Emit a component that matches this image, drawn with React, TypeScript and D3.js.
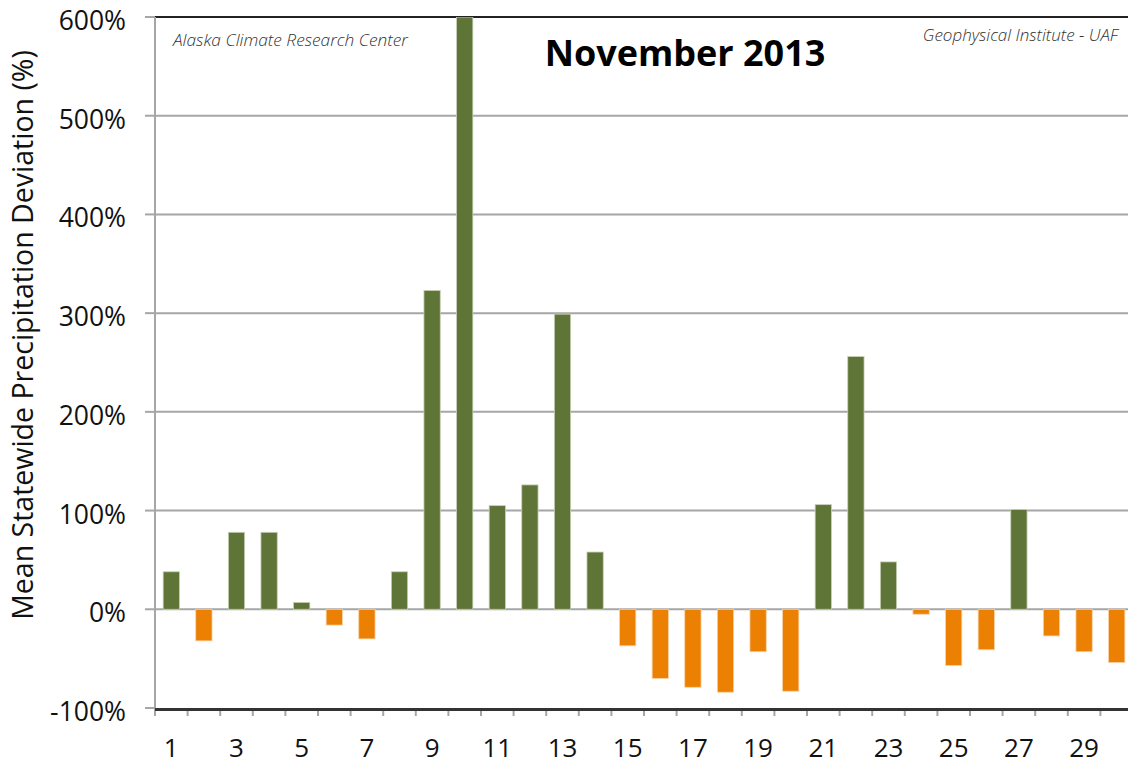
import React from "react";
import * as d3 from "d3";

const days: number[] = Array.from({ length: 30 }, (_, i) => i + 1);
const deviation: number[] = [
  38, -32, 78, 78, 7, -16, -30, 38, 323, 600,
  105, 126, 299, 58, -37, -70, -79, -84, -43, -83,
  106, 256, 48, -5, -57, -41, 101, -27, -43, -54,
];
const yTicks: number[] = [-100, 0, 100, 200, 300, 400, 500, 600];
const xTickLabels: number[] = [1, 3, 5, 7, 9, 11, 13, 15, 17, 19, 21, 23, 25, 27, 29];

const W = 1128;
const H = 765;
const left = 155;
const top = 17;
const bottom = 708;
const bandW = 32.6;
const FONT = "'Open Sans', 'DejaVu Sans', sans-serif";

export default function App() {
  const x = d3
    .scaleBand<number>()
    .domain(days)
    .range([left, left + bandW * days.length])
    .paddingInner(0.5)
    .paddingOuter(0.25);
  const y = d3.scaleLinear().domain([-100, 600]).range([bottom, top]);
  const green = "#5f7537";
  const orange = "#ec8003";
  const boundaries = d3.range(0, days.length + 1).map((k) => left + k * bandW);

  return (
    <svg
      width={W}
      height={H}
      style={{ position: "absolute", left: 0, top: 0, background: "#fff" }}
    >
      <defs>
        <clipPath id="plot">
          <rect x={left} y={top} width={W - left} height={bottom - top} />
        </clipPath>
      </defs>
      {yTicks
        .filter((t) => t !== 600 && t !== -100)
        .map((t) => (
          <line key={"g" + t} x1={left} x2={W} y1={y(t)} y2={y(t)} stroke="#a6a6a6" strokeWidth={2} />
        ))}
      <line x1={left} x2={W} y1={y(600)} y2={y(600)} stroke="#222" strokeWidth={2} />
      {yTicks.map((t) => (
        <line key={"t" + t} x1={145} x2={left} y1={y(t)} y2={y(t)} stroke="#a6a6a6" strokeWidth={2} />
      ))}
      <g clipPath="url(#plot)">
        {days.map((d, i) => {
          const v = deviation[i];
          const y0 = y(Math.max(0, v));
          const y1 = y(Math.min(0, v));
          return (
            <rect
              key={d}
              x={x(d)}
              y={y0}
              width={x.bandwidth()}
              height={y1 - y0}
              fill={v >= 0 ? green : orange}
              stroke={v >= 0 ? "#c9d1b8" : "#f8d2a6"}
              strokeWidth={0.8}
            />
          );
        })}
      </g>
      <line x1={left} x2={left} y1={top} y2={716} stroke="#a6a6a6" strokeWidth={2} />
      {boundaries.map((bx, k) => (
        <line key={"b" + k} x1={bx} x2={bx} y1={709} y2={716} stroke="#a6a6a6" strokeWidth={2} />
      ))}
      <line x1={left} x2={W} y1={709.5} y2={709.5} stroke="#333" strokeWidth={3} />
      {yTicks.map((t) => (
        <text
          key={"l" + t}
          x={126}
          y={y(t) + 13}
          textAnchor="end"
          fontFamily={FONT}
          fontSize={26.5}
          fill="#111"
        >
          {t + "%"}
        </text>
      ))}
      {xTickLabels.map((d) => (
        <text
          key={"x" + d}
          x={(x(d) as number) + x.bandwidth() / 2}
          y={757}
          textAnchor="middle"
          fontFamily={FONT}
          fontSize={26}
          fill="#111"
        >
          {d}
        </text>
      ))}
      <text
        transform={`translate(33, 335) rotate(-90)`}
        textAnchor="middle"
        fontFamily={FONT}
        fontSize={28.5}
        fill="#111"
      >
        Mean Statewide Precipitation Deviation (%)
      </text>
      <text x={685} y={66} textAnchor="middle" fontFamily={FONT} fontWeight="bold" fontSize={36} fill="#000">
        November 2013
      </text>
      <text x={173} y={46} fontFamily={FONT} fontStyle="italic" fontWeight={300} fontSize={17.3} fill="#333">
        Alaska Climate Research Center
      </text>
      <text x={1118} y={41} textAnchor="end" fontFamily={FONT} fontStyle="italic" fontWeight={300} fontSize={17} fill="#333">
        Geophysical Institute - UAF
      </text>
    </svg>
  );
}
